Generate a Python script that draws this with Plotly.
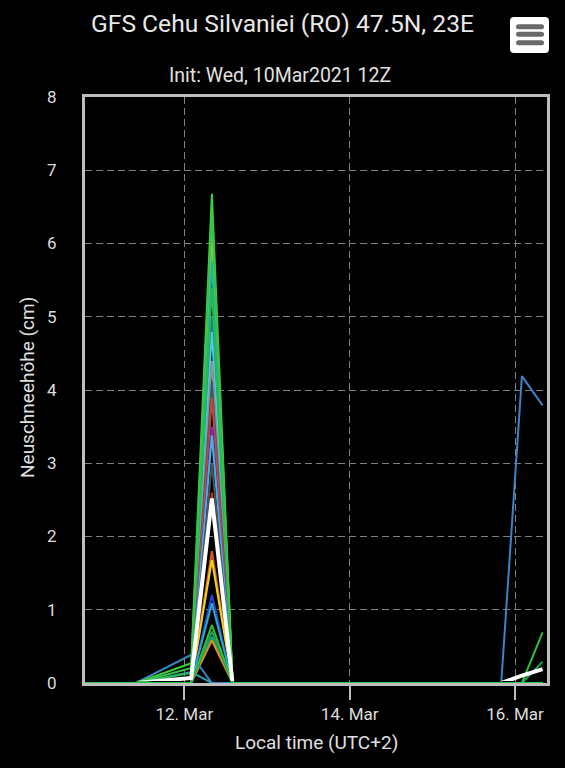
import plotly.graph_objects as go

# ---------------- data ----------------
times = ["2021-03-10 19:00", "2021-03-11 10:00", "2021-03-12 02:00", "2021-03-12 08:00",
         "2021-03-12 14:00", "2021-03-15 20:00", "2021-03-16 02:00", "2021-03-16 08:00"]

member_colors = ["#2e8fdb", "#a8d820", "#22b2a8", "#1a7f86", "#4ec6e6", "#8c9696", "#3d5a6a",
                 "#c0473a", "#7a2dc8", "#38b6e8", "#505050", "#b8321e", "#d2601a", "#f2d21e",
                 "#2548d0", "#2aa8c8", "#1aa88a", "#e8861e", "#2b9aa8", "#3a84c8", "#1f9e50",
                 "#2fbf3a", "#28b850", "#3ccf3c", "#36c24a"]

# new snow (cm) per member at each time step
v_0310_19 = [0] * 25
v_0311_10 = [0] * 25
v_0312_02 = [0, 0, 0, 0, 0, 0, 0, 0, 0, 0, 0, 0, 0, 0, 0, 0, 0, 0, 0.15, 0.385, 0, 0, 0.137, 0.27, 0.205]
v_0312_08 = [6.05, 6.2, 5.75, 5.0, 4.79, 4.4, 4.1, 3.9, 3.5, 3.38, 3.0, 2.6, 1.8, 1.68, 1.2, 1.09,
             0.63, 0.58, 0, 0, 0.7, 0.79, 5.4, 6.68, 6.4]
v_0312_14 = [0] * 25
v_0315_20 = [0] * 25
v_0316_02 = [0, 0, 0, 0, 0, 0, 0, 0, 0, 0, 0, 0, 0, 0, 0, 0, 0, 0, 0, 4.19, 0, 0, 0, 0, 0]
v_0316_08 = [0, 0, 0, 0, 0, 0, 0, 0, 0, 0, 0, 0, 0, 0, 0, 0, 0, 0, 0, 3.79, 0.29, 0.69, 0, 0, 0]

mean_values = [0, 0, 0.068, 2.52, 0, 0, 0.10, 0.19]

y_ticks = [0, 1, 2, 3, 4, 5, 6, 7, 8]

steps = [v_0310_19, v_0311_10, v_0312_02, v_0312_08, v_0312_14, v_0315_20, v_0316_02, v_0316_08]

# ---------------- layout geometry (pixels) ----------------
W, H = 565, 768
L, R, T, B = 85, 547, 97, 683
PW, PH = R - L, B - T


def px_x(p):
    return (p - L) / PW


def px_y(p):
    return (B - p) / PH


fig = go.Figure()

for i, col in enumerate(member_colors):
    fig.add_trace(go.Scatter(
        x=times, y=[s[i] for s in steps], mode="lines",
        line=dict(color=col, width=2), showlegend=False, hoverinfo="skip",
        xaxis="x", yaxis="y"))

# ensemble mean on a twin subplot whose clip starts 2px above the baseline
d = 2 / PH
fig.add_trace(go.Scatter(
    x=times, y=mean_values, mode="lines",
    line=dict(color="#ffffff", width=4), showlegend=False, hoverinfo="skip",
    xaxis="x2", yaxis="y2"))

xrange = ["2021-03-10 19:10", "2021-03-16 09:17"]
grid_col = "#808080"
border_col = "#bdbdbd"
font_col = "#dcdcdc"

fig.update_layout(
    width=W, height=H,
    margin=dict(l=L, r=W - R, t=T, b=H - B, pad=0),
    paper_bgcolor="#000000",
    plot_bgcolor="rgba(0,0,0,0)",
    font=dict(family="Roboto", color=font_col, size=17),
    title=dict(text="GFS Cehu Silvaniei (RO) 47.5N, 23E", x=0.5, xref="container",
               xanchor="center", y=1 - 23 / H, yref="container", yanchor="middle",
               font=dict(size=24.6, color="#e8e8e8", family="Roboto")),
    xaxis=dict(type="date", range=xrange, tick0="2021-03-12", dtick=2 * 86400000,
               tickformat="%d. %b", showgrid=True, gridcolor=grid_col, gridwidth=1,
               griddash="7px,4px", showline=True, mirror=True, linecolor=border_col,
               linewidth=3, ticks="outside", ticklen=14, tickwidth=2, tickcolor=border_col,
               tickfont=dict(size=17, color=font_col), zeroline=False, domain=[0, 1],
               anchor="y"),
    yaxis=dict(range=[0, 8], tickvals=y_ticks, showgrid=True, gridcolor=grid_col,
               gridwidth=1, griddash="7px,4px", showline=True, mirror=True,
               linecolor=border_col, linewidth=3, ticks="", ticklabelstandoff=22,
               tickfont=dict(size=17, color=font_col), zeroline=False, domain=[0, 1],
               anchor="x"),
    xaxis2=dict(type="date", range=xrange, visible=False, domain=[0, 1], anchor="y2"),
    yaxis2=dict(range=[2 / (PH / 8), 8], visible=False, domain=[d, 1], anchor="x2"),
)

# titles
fig.add_annotation(text="Init: Wed, 10Mar2021 12Z", xref="paper", yref="paper",
                   x=px_x(280), y=px_y(75), xanchor="center", yanchor="middle",
                   showarrow=False, font=dict(size=19.5, color="#e0e0e0"))
fig.add_annotation(text="Local time (UTC+2)", xref="paper", yref="paper",
                   x=px_x(316), y=px_y(742), xanchor="center", yanchor="middle",
                   showarrow=False, font=dict(size=19, color="#e0e0e0"))
fig.add_annotation(text="Neuschneehöhe (cm)", xref="paper", yref="paper",
                   x=px_x(28), y=px_y(388), xanchor="center", yanchor="middle",
                   textangle=-90, showarrow=False, font=dict(size=19, color="#e0e0e0"))


# menu button (decoration)
def rrect(x0, y0, x1, y1, r):
    X0, X1 = px_x(x0), px_x(x1)
    Y0, Y1 = px_y(y0), px_y(y1)
    rx, ry = r / PW, r / PH
    return (f"M {X0 + rx},{Y0} L {X1 - rx},{Y0} Q {X1},{Y0} {X1},{Y0 - ry} "
            f"L {X1},{Y1 + ry} Q {X1},{Y1} {X1 - rx},{Y1} L {X0 + rx},{Y1} "
            f"Q {X0},{Y1} {X0},{Y1 + ry} L {X0},{Y0 - ry} Q {X0},{Y0} {X0 + rx},{Y0} Z")


fig.add_shape(type="path", xref="paper", yref="paper", path=rrect(510, 17, 549, 53, 4),
              fillcolor="#ffffff", line=dict(width=0), layer="above")
for cy in (26.7, 34.3, 42.7):
    fig.add_shape(type="path", xref="paper", yref="paper",
                  path=rrect(516, cy - 2.5, 544, cy + 2.5, 2.5),
                  fillcolor="#6a6a6a", line=dict(width=0), layer="above")

page_js = ("document.body.style.margin='0';document.body.style.padding='0';"
           "document.body.style.background='#000';"
           "document.documentElement.style.background='#000';"
           "document.body.style.overflow='hidden';")

fig.write_html("out.html", config={"displayModeBar": False}, post_script=page_js)
